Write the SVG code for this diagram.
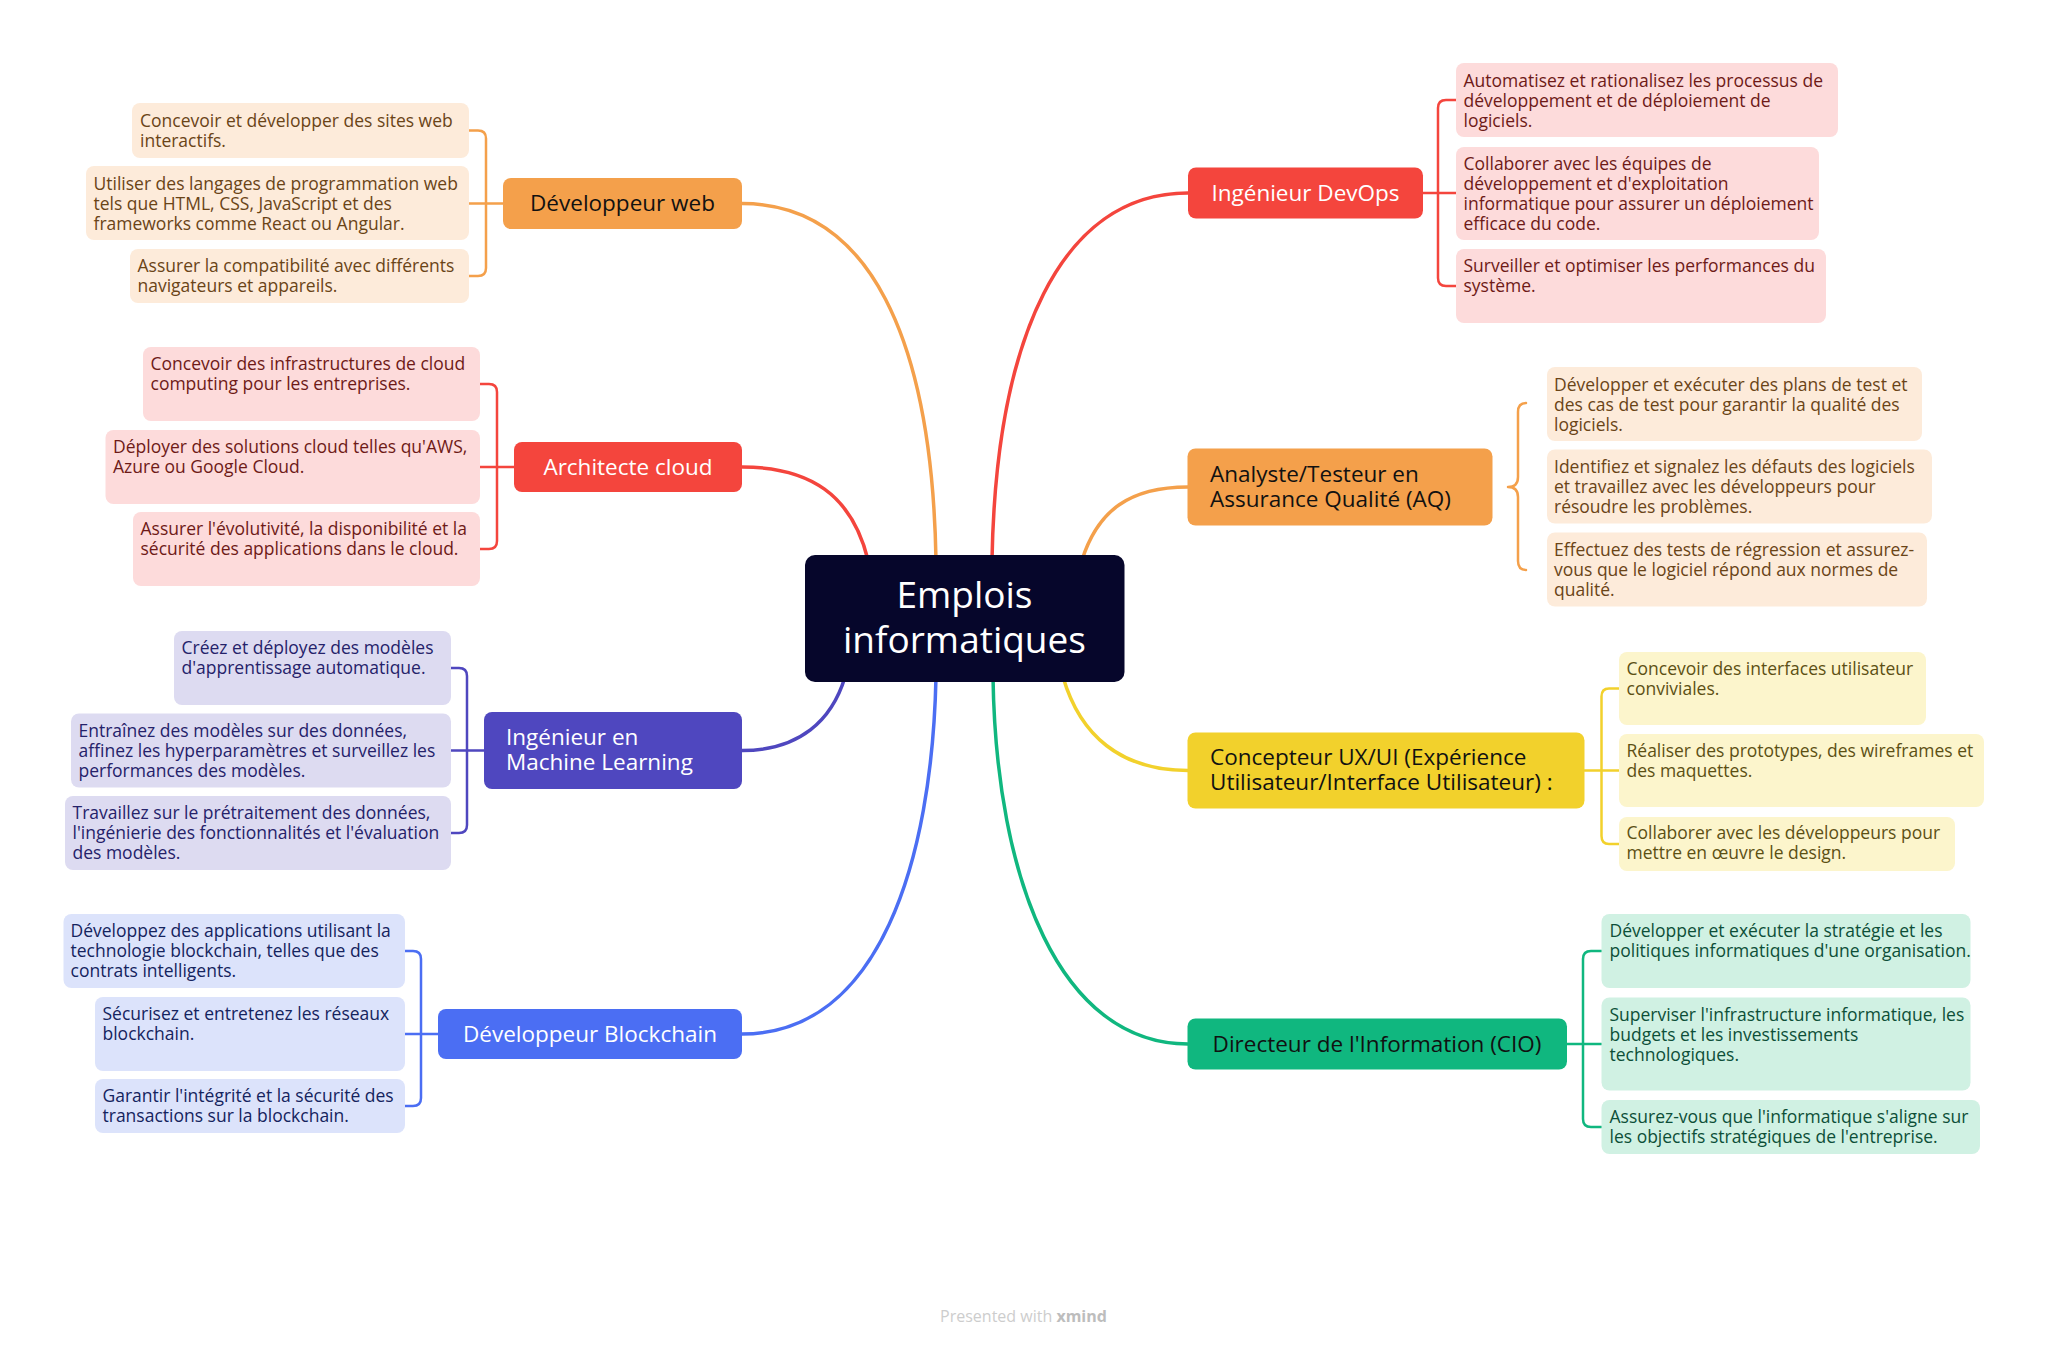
<svg xmlns="http://www.w3.org/2000/svg" width="2048" height="1350" viewBox="0 0 2048 1350">
<style>
text{font-family:"Open Sans","Noto Sans","DejaVu Sans",sans-serif}
.ct{font-size:17.5px}
.bt{font-size:22.5px}
.cur{fill:none;stroke-width:3.5;stroke-linecap:round}
.brk{fill:none;stroke-width:2.5;stroke-linecap:round;stroke-linejoin:round}
.o{stroke:#F4A04B}.r{stroke:#F4453D}.i{stroke:#4F47BF}.b{stroke:#4B6EF3}.y{stroke:#F2D12C}.g{stroke:#10B77F}
.fo{fill:#F4A04B}.fr{fill:#F4453D}.fi{fill:#4F47BF}.fb{fill:#4B6EF3}.fy{fill:#F2D12C}.fg{fill:#10B77F}
.lo{fill:#FDEBDA}.lr{fill:#FDDBDB}.li{fill:#DDDBF1}.lb{fill:#DCE3FB}.ly{fill:#FCF5CC}.lg{fill:#D0F1E3}
.to{fill:#6A4417}.tr{fill:#6E1A17}.ti{fill:#25226A}.tb{fill:#15245E}.ty{fill:#5C5014}.tg{fill:#0D4F38}
.tw{fill:#FFFFFF}.tk{fill:#111111}
</style>
<rect width="2048" height="1350" fill="#FFFFFF"/>

<g id="connectors">
<path class="cur o" d="M 742 203.5 C 870 203.5, 932 340, 936 560"/>
<path class="cur r" d="M 742 467 C 810 467, 852 495, 868 560"/>
<path class="cur i" d="M 742 750.5 C 800 750.5, 832 720, 845 677"/>
<path class="cur b" d="M 742 1034 C 880 1034, 932 860, 936 677"/>
<path class="cur r" d="M 1188 193 C 1060 193, 996 340, 992 560"/>
<path class="cur o" d="M 1188 487 C 1130 487, 1098 510, 1082 560"/>
<path class="cur y" d="M 1188 770.5 C 1120 770.5, 1080 735, 1063 677"/>
<path class="cur g" d="M 1188 1044 C 1060 1044, 996 880, 993 677"/>

<path class="brk o" d="M 469 130.5 H 478 Q 486 130.5 486 138.5 V 268 Q 486 276 478 276 H 469 M 469 203.5 H 503"/>
<path class="brk r" d="M 480 384 H 489 Q 497 384 497 392 V 541 Q 497 549 489 549 H 480 M 480 467 H 514"/>
<path class="brk i" d="M 451 668 H 459 Q 467 668 467 676 V 825 Q 467 833 459 833 H 451 M 451 750.5 H 484"/>
<path class="brk b" d="M 405 951 H 413 Q 421 951 421 959 V 1098 Q 421 1106 413 1106 H 405 M 405 1034 H 438"/>
<path class="brk r" d="M 1456 100 H 1446 Q 1438 100 1438 108 V 278 Q 1438 286 1446 286 H 1456 M 1456 193 H 1423"/>
<path class="brk o" d="M 1526 403 Q 1518 403 1518 412 V 477 Q 1518 487 1508 487 Q 1518 487 1518 497 V 561 Q 1518 570 1526 570"/>
<path class="brk y" d="M 1619 688.5 H 1609 Q 1601.5 688.5 1601.5 696.5 V 836 Q 1601.5 844 1609 844 H 1619 M 1619 770.5 H 1584.5"/>
<path class="brk g" d="M 1601.5 951 H 1591 Q 1583 951 1583 959 V 1119 Q 1583 1127 1591 1127 H 1601.5 M 1601.5 1044 H 1567"/>
</g>

<g id="central">
<rect x="805" y="555" width="319.5" height="127" rx="10" fill="#06062B"/>
<text x="964.5" y="608" font-size="37" text-anchor="middle" class="tw">Emplois</text>
<text x="964.5" y="653" font-size="37" text-anchor="middle" class="tw">informatiques</text>
</g>

<g id="dev-web">
<rect x="503" y="178" width="239" height="51" rx="8" class="fo"/>
<text x="622.5" y="211" text-anchor="middle" class="bt tk">Développeur web</text>
</g>
<g id="dev-web-1">
<rect x="132" y="103" width="337" height="55" rx="8" class="lo"/>
<text class="ct to"><tspan x="140" y="126.5">Concevoir et développer des sites web</tspan><tspan x="140" y="146.5">interactifs.</tspan></text>
</g>
<g id="dev-web-2">
<rect x="86" y="166" width="383" height="74" rx="8" class="lo"/>
<text class="ct to"><tspan x="93.5" y="189.5">Utiliser des langages de programmation web</tspan><tspan x="93.5" y="209.5">tels que HTML, CSS, JavaScript et des</tspan><tspan x="93.5" y="229.5">frameworks comme React ou Angular.</tspan></text>
</g>
<g id="dev-web-3">
<rect x="130" y="249" width="339" height="54" rx="8" class="lo"/>
<text class="ct to"><tspan x="137.5" y="272">Assurer la compatibilité avec différents</tspan><tspan x="137.5" y="292">navigateurs et appareils.</tspan></text>
</g>

<g id="cloud">
<rect x="514" y="442" width="228" height="50" rx="8" class="fr"/>
<text x="628" y="475" text-anchor="middle" class="bt tw">Architecte cloud</text>
</g>
<g id="cloud-1">
<rect x="143" y="347" width="337" height="74" rx="8" class="lr"/>
<text class="ct tr"><tspan x="150.5" y="370">Concevoir des infrastructures de cloud</tspan><tspan x="150.5" y="390">computing pour les entreprises.</tspan></text>
</g>
<g id="cloud-2">
<rect x="105.5" y="430" width="374.5" height="74" rx="8" class="lr"/>
<text class="ct tr"><tspan x="113" y="453">Déployer des solutions cloud telles qu'AWS,</tspan><tspan x="113" y="473">Azure ou Google Cloud.</tspan></text>
</g>
<g id="cloud-3">
<rect x="133" y="512" width="347" height="74" rx="8" class="lr"/>
<text class="ct tr"><tspan x="140.5" y="535">Assurer l'évolutivité, la disponibilité et la</tspan><tspan x="140.5" y="555">sécurité des applications dans le cloud.</tspan></text>
</g>

<g id="ml">
<rect x="484" y="712" width="258" height="77" rx="8" class="fi"/>
<text class="bt tw"><tspan x="506" y="745">Ingénieur en</tspan><tspan x="506" y="770">Machine Learning</tspan></text>
</g>
<g id="ml-1">
<rect x="174" y="631" width="277" height="74" rx="8" class="li"/>
<text class="ct ti"><tspan x="181.5" y="654">Créez et déployez des modèles</tspan><tspan x="181.5" y="674">d'apprentissage automatique.</tspan></text>
</g>
<g id="ml-2">
<rect x="71" y="713.5" width="380" height="74" rx="8" class="li"/>
<text class="ct ti"><tspan x="78.5" y="736.5">Entraînez des modèles sur des données,</tspan><tspan x="78.5" y="756.5">affinez les hyperparamètres et surveillez les</tspan><tspan x="78.5" y="776.5">performances des modèles.</tspan></text>
</g>
<g id="ml-3">
<rect x="65" y="796" width="386" height="74" rx="8" class="li"/>
<text class="ct ti"><tspan x="72.5" y="819">Travaillez sur le prétraitement des données,</tspan><tspan x="72.5" y="839">l'ingénierie des fonctionnalités et l'évaluation</tspan><tspan x="72.5" y="859">des modèles.</tspan></text>
</g>

<g id="blockchain">
<rect x="438" y="1009" width="304" height="50" rx="8" class="fb"/>
<text x="590" y="1042" text-anchor="middle" class="bt tw">Développeur Blockchain</text>
</g>
<g id="blockchain-1">
<rect x="63.5" y="914" width="341.5" height="74" rx="8" class="lb"/>
<text class="ct tb"><tspan x="70.5" y="937">Développez des applications utilisant la</tspan><tspan x="70.5" y="957">technologie blockchain, telles que des</tspan><tspan x="70.5" y="977">contrats intelligents.</tspan></text>
</g>
<g id="blockchain-2">
<rect x="95" y="997" width="310" height="74" rx="8" class="lb"/>
<text class="ct tb"><tspan x="102.5" y="1020">Sécurisez et entretenez les réseaux</tspan><tspan x="102.5" y="1040">blockchain.</tspan></text>
</g>
<g id="blockchain-3">
<rect x="95" y="1079" width="310" height="54" rx="8" class="lb"/>
<text class="ct tb"><tspan x="102.5" y="1102">Garantir l'intégrité et la sécurité des</tspan><tspan x="102.5" y="1122">transactions sur la blockchain.</tspan></text>
</g>

<g id="devops">
<rect x="1188" y="167.5" width="235" height="51" rx="8" class="fr"/>
<text x="1305.5" y="200.5" text-anchor="middle" class="bt tw">Ingénieur DevOps</text>
</g>
<g id="devops-1">
<rect x="1456" y="63" width="382" height="74" rx="8" class="lr"/>
<text class="ct tr"><tspan x="1463.5" y="86.5">Automatisez et rationalisez les processus de</tspan><tspan x="1463.5" y="106.5">développement et de déploiement de</tspan><tspan x="1463.5" y="126.5">logiciels.</tspan></text>
</g>
<g id="devops-2">
<rect x="1456" y="147" width="363" height="93" rx="8" class="lr"/>
<text class="ct tr"><tspan x="1463.5" y="170">Collaborer avec les équipes de</tspan><tspan x="1463.5" y="190">développement et d'exploitation</tspan><tspan x="1463.5" y="210">informatique pour assurer un déploiement</tspan><tspan x="1463.5" y="230">efficace du code.</tspan></text>
</g>
<g id="devops-3">
<rect x="1456" y="249" width="370" height="74" rx="8" class="lr"/>
<text class="ct tr"><tspan x="1463.5" y="272">Surveiller et optimiser les performances du</tspan><tspan x="1463.5" y="292">système.</tspan></text>
</g>

<g id="qa">
<rect x="1187.5" y="448.5" width="305" height="77" rx="8" class="fo"/>
<text class="bt tk"><tspan x="1210" y="482">Analyste/Testeur en</tspan><tspan x="1210" y="507">Assurance Qualité (AQ)</tspan></text>
</g>
<g id="qa-1">
<rect x="1547" y="367" width="375" height="74" rx="8" class="lo"/>
<text class="ct to"><tspan x="1554" y="390.5">Développer et exécuter des plans de test et</tspan><tspan x="1554" y="410.5">des cas de test pour garantir la qualité des</tspan><tspan x="1554" y="430.5">logiciels.</tspan></text>
</g>
<g id="qa-2">
<rect x="1547" y="449.5" width="385" height="74" rx="8" class="lo"/>
<text class="ct to"><tspan x="1554" y="473">Identifiez et signalez les défauts des logiciels</tspan><tspan x="1554" y="493">et travaillez avec les développeurs pour</tspan><tspan x="1554" y="513">résoudre les problèmes.</tspan></text>
</g>
<g id="qa-3">
<rect x="1547" y="532.5" width="380" height="74" rx="8" class="lo"/>
<text class="ct to"><tspan x="1554" y="556">Effectuez des tests de régression et assurez-</tspan><tspan x="1554" y="576">vous que le logiciel répond aux normes de</tspan><tspan x="1554" y="596">qualité.</tspan></text>
</g>

<g id="ux">
<rect x="1187.5" y="732.5" width="397" height="76" rx="8" class="fy"/>
<text class="bt tk"><tspan x="1210" y="765">Concepteur UX/UI (Expérience</tspan><tspan x="1210" y="790">Utilisateur/Interface Utilisateur) :</tspan></text>
</g>
<g id="ux-1">
<rect x="1619" y="652" width="307" height="73" rx="8" class="ly"/>
<text class="ct ty"><tspan x="1626.5" y="674.5">Concevoir des interfaces utilisateur</tspan><tspan x="1626.5" y="694.5">conviviales.</tspan></text>
</g>
<g id="ux-2">
<rect x="1619" y="734" width="365" height="73" rx="8" class="ly"/>
<text class="ct ty"><tspan x="1626.5" y="756.5">Réaliser des prototypes, des wireframes et</tspan><tspan x="1626.5" y="776.5">des maquettes.</tspan></text>
</g>
<g id="ux-3">
<rect x="1619" y="817" width="336" height="54" rx="8" class="ly"/>
<text class="ct ty"><tspan x="1626.5" y="839">Collaborer avec les développeurs pour</tspan><tspan x="1626.5" y="859">mettre en œuvre le design.</tspan></text>
</g>

<g id="cio">
<rect x="1187.5" y="1018.5" width="379.5" height="51" rx="8" class="fg"/>
<text x="1377" y="1052" text-anchor="middle" class="bt tk">Directeur de l'Information (CIO)</text>
</g>
<g id="cio-1">
<rect x="1601.5" y="914" width="369" height="74" rx="8" class="lg"/>
<text class="ct tg"><tspan x="1609.5" y="937">Développer et exécuter la stratégie et les</tspan><tspan x="1609.5" y="957">politiques informatiques d'une organisation.</tspan></text>
</g>
<g id="cio-2">
<rect x="1601.5" y="997.5" width="369" height="93" rx="8" class="lg"/>
<text class="ct tg"><tspan x="1609.5" y="1020.5">Superviser l'infrastructure informatique, les</tspan><tspan x="1609.5" y="1040.5">budgets et les investissements</tspan><tspan x="1609.5" y="1060.5">technologiques.</tspan></text>
</g>
<g id="cio-3">
<rect x="1601.5" y="1100" width="378.5" height="54" rx="8" class="lg"/>
<text class="ct tg"><tspan x="1609.5" y="1123">Assurez-vous que l'informatique s'aligne sur</tspan><tspan x="1609.5" y="1143">les objectifs stratégiques de l'entreprise.</tspan></text>
</g>

<text x="1023.5" y="1322" font-size="16" text-anchor="middle" fill="#CDCDCD">Presented with <tspan font-weight="bold" fill="#BDBDBD">xmind</tspan></text>
</svg>
